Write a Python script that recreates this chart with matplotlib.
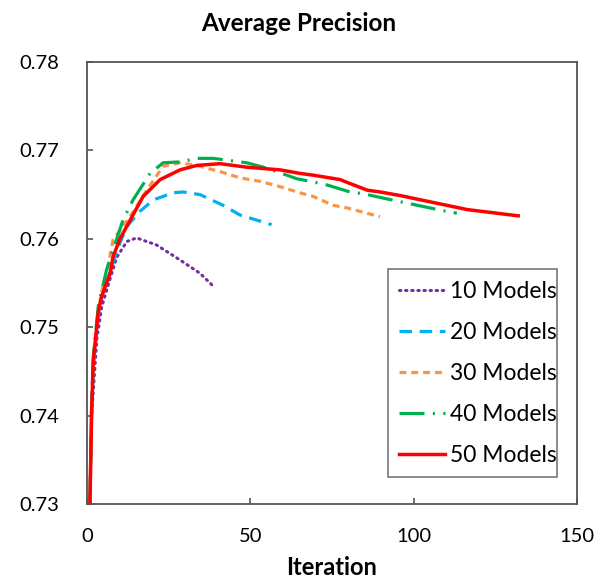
import numpy as np
import matplotlib
matplotlib.use("Agg")
import matplotlib.pyplot as plt

plt.rcParams['font.family'] = ['Lato', 'DejaVu Sans']
plt.rcParams['lines.scale_dashes'] = False

# data
x10 = [0.9, 1.4, 3.0, 4.5, 7.0, 9.1, 12.2, 15.2, 21.3, 28.5, 34.6, 38.2]
y10 = [0.7300, 0.7399, 0.7486, 0.7523, 0.7554, 0.7579, 0.7597, 0.7601, 0.7593, 0.7576, 0.7561, 0.7548]

x20 = [0.9, 1.4, 2.0, 3.5, 4.5, 7.0, 9.5, 12.2, 16.2, 20.3, 26.3, 29.4, 34.6, 41.6, 46.8, 56.5]
y20 = [0.7300, 0.7400, 0.7460, 0.7515, 0.7535, 0.7562, 0.7590, 0.7614, 0.7631, 0.7644, 0.7652, 0.7653,
       0.7650, 0.7638, 0.7627, 0.7616]

x30 = [0.9, 1.4, 2.0, 3.5, 4.5, 6.5, 8.0, 13.2, 18.3, 23.3, 28.5, 33.6, 40.7, 46.8, 53.0, 59.1, 65.2,
       69.2, 75.3, 79.5, 89.7]
y30 = [0.7300, 0.7410, 0.7470, 0.7520, 0.7540, 0.7570, 0.7599, 0.7625, 0.7655, 0.7682, 0.7686, 0.7683,
       0.7676, 0.7669, 0.7665, 0.7659, 0.7652, 0.7648, 0.7638, 0.7635, 0.7625]

x40 = [0.9, 1.4, 2.0, 3.5, 6.0, 11.0, 14.1, 19.3, 23.3, 28.5, 33.6, 38.6, 48.9, 55.0, 64.2, 68.3, 73.4,
       80.5, 84.5, 95.8, 110.1, 113.2]
y40 = [0.7300, 0.7410, 0.7470, 0.7525, 0.7565, 0.7621, 0.7644, 0.7674, 0.7686, 0.7687, 0.7691, 0.7691,
       0.7686, 0.7680, 0.7668, 0.7665, 0.7661, 0.7653, 0.7651, 0.7642, 0.7631, 0.7629]

x50 = [0.9, 1.4, 1.9, 3.4, 4.5, 7.1, 8.0, 10.1, 13.2, 17.2, 22.4, 28.5, 33.6, 40.7, 48.9, 59.1, 65.2,
       69.2, 77.5, 79.5, 85.8, 89.7, 95.8, 106.1, 116.5, 132.0]
y50 = [0.7300, 0.7400, 0.7460, 0.7516, 0.7535, 0.7561, 0.7580, 0.7600, 0.7621, 0.7648, 0.7667, 0.7678,
       0.7683, 0.7685, 0.7681, 0.7678, 0.7674, 0.7672, 0.7667, 0.7664, 0.7655, 0.7653, 0.7649, 0.7641,
       0.7633, 0.7626]

labels = ['10 Models', '20 Models', '30 Models', '40 Models', '50 Models']

fig = plt.figure(figsize=(5.97, 5.80), dpi=100)
ax = fig.add_axes([0.1457, 0.1310, 0.8208, 0.7621])

ax.plot(x10, y10, color='#7030A0', lw=2.2, dashes=(1.0, 3.4), dash_capstyle='round', label=labels[0])
ax.plot(x20, y20, color='#00B0F0', lw=2.3, dashes=(9, 5.5), label=labels[1])
ax.plot(x30, y30, color='#F79646', lw=2.3, dashes=(5, 3.5), label=labels[2])
ax.plot(x40, y40, color='#00B050', lw=2.3, dashes=(18, 6, 1.5, 6), label=labels[3])
ax.plot(x50, y50, color='#FF0000', lw=2.5, label=labels[4])

ax.set_xlim(0, 150)
ax.set_ylim(0.73, 0.78)
ax.set_xticks([0, 50, 100, 150])
ax.set_yticks([0.73, 0.74, 0.75, 0.76, 0.77, 0.78])
ax.set_yticklabels(['0.73', '0.74', '0.75', '0.76', '0.77', '0.78'])
ax.tick_params(axis='both', direction='in', length=4, width=1.2, labelsize=14.5, color='#555555')
ax.tick_params(axis='y', pad=20)
ax.tick_params(axis='x', pad=17)
for s in ax.spines.values():
    s.set_color('#555555')
    s.set_linewidth(1.3)

ax.set_xlabel('Iteration', fontsize=17, fontweight='bold', labelpad=8)
fig.text(0.5, 0.959, 'Average Precision', ha='center', va='center', fontsize=17.5, fontweight='bold')

leg = ax.legend(loc='lower left', bbox_to_anchor=(0.614, 0.061, 0.345, 0.457), mode='expand',
                fontsize=16.5, frameon=True, fancybox=False, handlelength=2.0, handletextpad=0.2,
                labelspacing=0.87, borderpad=0.5, borderaxespad=0)
leg.get_frame().set_edgecolor('#555555')
leg.get_frame().set_linewidth(1.2)

fig.savefig('out.png', dpi=100)
